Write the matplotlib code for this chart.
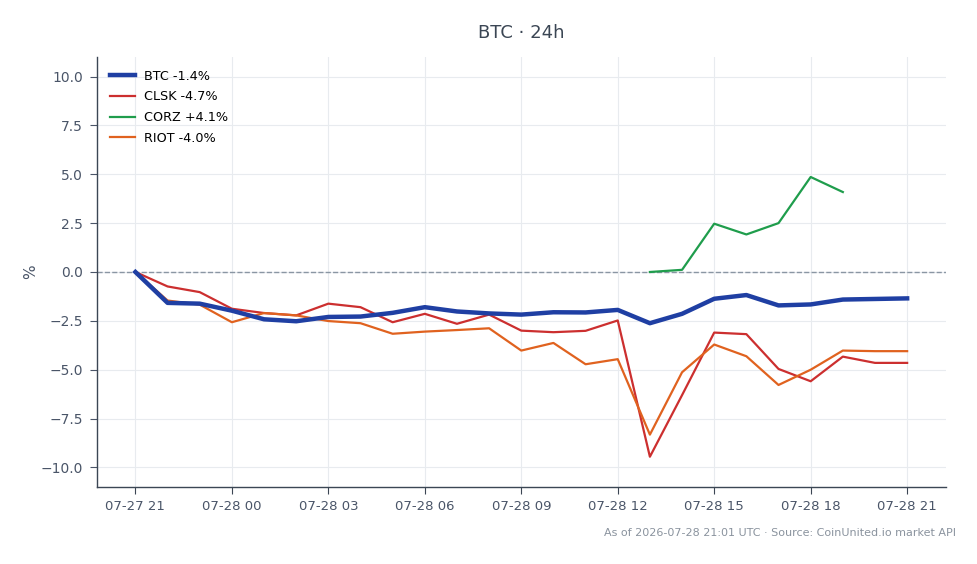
import matplotlib
matplotlib.use("Agg")
import matplotlib.pyplot as plt
import matplotlib.dates as mdates
import pandas as pd
import numpy as np

times = pd.date_range("2026-07-27 21:00", periods=25, freq="h")

btc = [0.0, -1.58, -1.62, -1.98, -2.42, -2.52, -2.3, -2.28, -2.09, -1.8, -2.02, -2.12, -2.18, -2.06, -2.07,
       -1.94, -2.62, -2.14, -1.37, -1.18, -1.71, -1.66, -1.41, -1.38, -1.35]
clsk = [0.0, -0.74, -1.03, -1.88, -2.1, -2.22, -1.62, -1.8, -2.57, -2.14, -2.65, -2.18, -3.0, -3.08, -3.01,
        -2.48, -9.45, -6.3, -3.1, -3.18, -4.96, -5.59, -4.33, -4.65, -4.65]
corz = [np.nan] * 16 + [0.0, 0.11, 2.47, 1.92, 2.5, 4.86, 4.09, np.nan, np.nan]
riot = [0.0, -1.46, -1.67, -2.57, -2.1, -2.22, -2.51, -2.62, -3.16, -3.05, -2.97, -2.88, -4.02, -3.63, -4.72,
        -4.46, -8.32, -5.13, -3.71, -4.31, -5.78, -5.0, -4.02, -4.05, -4.05]

labels = ["BTC -1.4%", "CLSK -4.7%", "CORZ +4.1%", "RIOT -4.0%"]
colors = ["#1f3fa3", "#cc2f2f", "#1f9d4c", "#e0621f"]
title = "BTC · 24h"
footer = "As of 2026-07-28 21:01 UTC · Source: CoinUnited.io market API"

text_color = "#4a5568"
fig = plt.figure(figsize=(9.78, 5.64), dpi=100)
ax = fig.add_axes([0.099, 0.1365, 0.868, 0.7625])

ax.axhline(0, color="#8a96a3", linestyle="--", linewidth=1.0, zorder=1)
series = [btc, clsk, corz, riot]
widths = [3.2, 1.6, 1.6, 1.6]
for s, lab, c, w in zip(series, labels, colors, widths):
    ax.plot(times, s, color=c, linewidth=w, label=lab, zorder=3 if w > 2 else 2)

ax.set_ylim(-11, 11)
ax.set_yticks(np.arange(-10, 10.1, 2.5))
ax.xaxis.set_major_locator(mdates.HourLocator(byhour=range(0, 24, 3)))
ax.xaxis.set_major_formatter(mdates.DateFormatter("%m-%d %H"))

ax.grid(True, color="#e8ebef", linewidth=0.8, zorder=0)
ax.set_axisbelow(True)
for sp in ["top", "right"]:
    ax.spines[sp].set_visible(False)
for sp in ["left", "bottom"]:
    ax.spines[sp].set_color("#3b4654")
    ax.spines[sp].set_linewidth(1.0)
ax.tick_params(colors=text_color, labelsize=10, length=5, width=0.8, pad=5)
ax.tick_params(axis="x", colors="#3b4654", labelcolor=text_color, labelsize=9.5, pad=4)
ax.set_ylabel("%", color=text_color, fontsize=11, labelpad=2)
ax.set_title(title, color="#3b4654", fontsize=13, pad=14)

leg = ax.legend(loc="upper left", frameon=False, fontsize=9.2, handlelength=2.0,
                handletextpad=0.7, labelspacing=0.6, borderaxespad=0.6)
fig.text(0.977, 0.055, footer, ha="right", va="center", fontsize=8, color="#8a939e")

fig.savefig("out.png", dpi=100)
